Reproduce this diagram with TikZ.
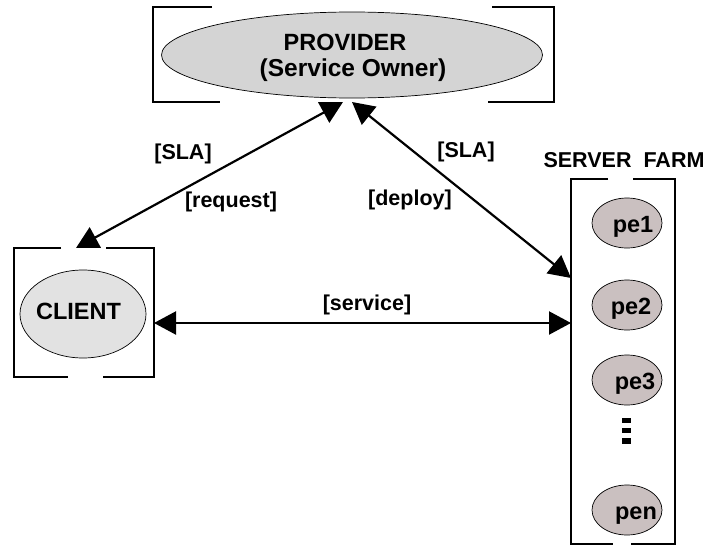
\documentclass[tikz,border=0pt]{standalone}
\usepackage{fontspec}
\setmainfont{Liberation Sans}
\usetikzlibrary{arrows.meta,shapes.geometric}
\definecolor{provfill}{RGB}{212,212,212}
\definecolor{clientfill}{RGB}{226,226,226}
\definecolor{pefill}{RGB}{202,192,192}
\begin{document}
\begin{tikzpicture}[x=1pt,y=-1pt,
  bracketline/.style={line width=2.4pt},
  ell/.style={ellipse, draw, line width=0.7pt, inner sep=0pt},
  lbl/.style={font=\bfseries\fontsize{21.5}{25}\selectfont, inner sep=0pt},
  biglbl/.style={font=\bfseries\fontsize{23.5}{27}\selectfont, inner sep=0pt},
  area/.style={rectangle, draw=none, inner sep=0pt, outer sep=0pt},
  conn/.style={line width=2.2pt, {Triangle[length=22pt,width=23pt]}-{Triangle[length=22pt,width=23pt]}},
  pe/.style={ell, fill=pefill, minimum width=70pt, minimum height=50pt}]
\useasboundingbox (0,0) rectangle (705,546);

% bracket areas (invisible, for connectors)
\node[area, minimum width=401pt, minimum height=95pt] (provbox) at (353.5,54.5) {};
\node[area, minimum width=140pt, minimum height=129pt] (clientbox) at (84,312.5) {};
\node[area, minimum width=104pt, minimum height=365pt] (serverbox) at (623,361.5) {};

% provider
\draw[bracketline] (212,7) -- (153,7) -- (153,102) -- (220,102);
\draw[bracketline] (492,7) -- (554,7) -- (554,102) -- (488,102);
\node[ell, fill=provfill, minimum width=381pt, minimum height=86pt] (prov) at (352,55) {};
\node[biglbl, anchor=base] (provt1) at (345,50) {PROVIDER};
\node[biglbl, anchor=base, font=\bfseries\fontsize{24.5}{28}\selectfont] (provt2) at (353,76) {(Service Owner)};

% client
\draw[bracketline] (61,248) -- (14,248) -- (14,377) -- (68,377);
\draw[bracketline] (106,248) -- (154,248) -- (154,377) -- (103,377);
\node[ell, fill=clientfill, minimum width=126pt, minimum height=88pt] (client) at (83,314) {};
\node[biglbl] (clientt) at (78.5,311) {CLIENT};

% server farm
\node[lbl] (farmt) at (624,160) {SERVER\ \ FARM};
\draw[bracketline] (608,179) -- (571,179) -- (571,544) -- (613,544);
\draw[bracketline] (633,179) -- (675,179) -- (675,544) -- (631,544);
\node[pe] (pe1) at (627,223) {};
\node[pe] (pe2) at (627,305) {};
\node[pe] (pe3) at (627,380) {};
\node[pe] (pen) at (627,510) {};
\node[biglbl, anchor=base] (pe1t) at (633,232) {pe1};
\node[biglbl, anchor=base] (pe2t) at (631,314) {pe2};
\node[biglbl, anchor=base] (pe3t) at (635,389) {pe3};
\node[biglbl, anchor=base] (pent) at (636,519) {pen};
\fill (622,418) rectangle (631,423);
\fill (622,428) rectangle (631,433);
\fill (622,438) rectangle (631,444);

% connectors
\draw[conn] ([xshift=-8pt]clientbox.north) -- ([xshift=-10.5pt]provbox.south);
\draw[conn] ([xshift=-1.5pt]provbox.south) -- ([yshift=83.5pt]serverbox.west);
\draw[conn] ([yshift=-10.5pt]clientbox.east) -- ([yshift=38.5pt]serverbox.west);

% labels
\node[lbl] (sla1) at (183,154) {[SLA]};
\node[lbl] (req) at (231,202) {[request]};
\node[lbl] (sla2) at (466,152) {[SLA]};
\node[lbl] (dep) at (410,200) {[deploy]};
\node[lbl] (serv) at (367,305) {[service]};
\end{tikzpicture}
\end{document}
